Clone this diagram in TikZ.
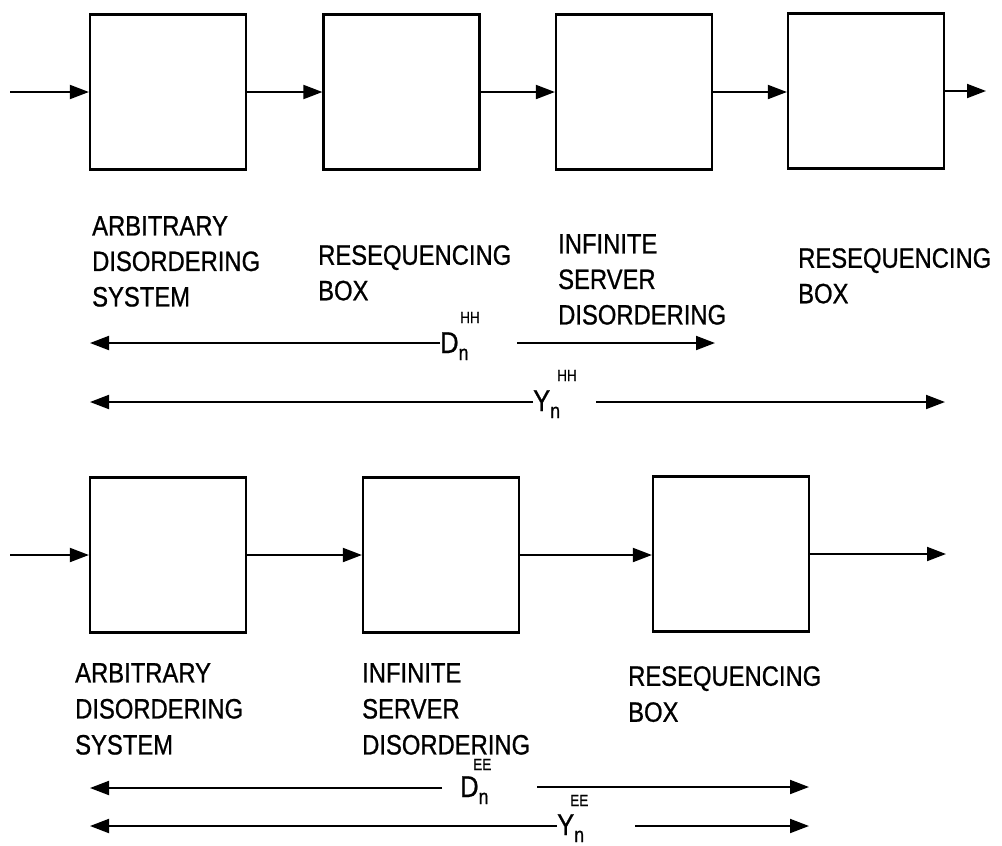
\documentclass[tikz,border=0pt]{standalone}
\usepackage{fontspec}
\setmainfont{Liberation Sans}[FakeStretch=0.85,FakeBold=0.8]
\usetikzlibrary{arrows.meta}
\begin{document}
\begin{tikzpicture}[x=1pt,y=-1pt,
  blk/.style={draw, line width=2.2pt, minimum width=156pt, minimum height=155pt, inner sep=0pt},
  arr/.style={line width=1.9pt, -{Triangle[length=19pt,width=14pt]}},
  lbl/.style={anchor=north west, inner sep=0pt, align=left, font=\fontsize{28}{35.5}\selectfont},
  lblb/.style={anchor=north west, inner sep=0pt, align=left, font=\fontsize{28}{36}\selectfont},
  var/.style={anchor=base west, inner sep=0pt, font=\fontsize{30}{30}\selectfont},
  supr/.style={anchor=base west, inner sep=0pt, font=\fontsize{16}{16}\selectfont}]
\useasboundingbox (0,0) rectangle (1002,846);

% top row
\node[blk] (b1) at (168,92) {};
\node[blk] (b2) at (401.5,92) {};
\node[blk] (b3) at (634,92) {};
\node[blk] (b4) at (866,91) {};
\coordinate (inT) at (10,92);
\coordinate (outT) at (986,91);
\draw[arr] (inT) -- (b1.west);
\draw[arr] (b1.east) -- (b2.west);
\draw[arr] (b2.east) -- (b3.west);
\draw[arr] (b3.east) -- (b4.west |- b3.east);
\draw[arr] (b4.east) -- (outT);

\node[lbl] (t1) at (92,216) {ARBITRARY\\DISORDERING\\SYSTEM};
\node[lbl] (t2) at (318,245) {RESEQUENCING\\BOX};
\node[lbl] (t3) at (558,234) {INFINITE\\SERVER\\DISORDERING};
\node[lbl] (t4) at (798,248) {RESEQUENCING\\BOX};

% D_n^HH
\node[var] (dhh) at (440,353) {D\raisebox{-7pt}{\fontsize{21}{21}\selectfont n}};
\node[supr] (dhhs) at (460,323) {HH};
\coordinate (dhhL) at (90,343);
\coordinate (dhhR1) at (517,343);
\coordinate (dhhR2) at (715,343);
\draw[arr] ([yshift=10pt]dhh.base west) -- (dhhL);
\draw[arr] (dhhR1) -- (dhhR2);

% Y_n^HH
\node[var] (yhh) at (533,411) {Y\raisebox{-7pt}{\fontsize{21}{21}\selectfont n}};
\node[supr] (yhhs) at (557,381) {HH};
\coordinate (yhhL) at (90,402);
\coordinate (yhhR1) at (596,402);
\coordinate (yhhR2) at (945,402);
\draw[arr] ([yshift=9pt]yhh.base west) -- (yhhL);
\draw[arr] (yhhR1) -- (yhhR2);

% bottom row
\node[blk] (c1) at (168,555) {};
\node[blk] (c2) at (441,555) {};
\node[blk] (c3) at (731,554) {};
\coordinate (inB) at (10,555);
\coordinate (outB) at (946,554);
\draw[arr] (inB) -- (c1.west);
\draw[arr] (c1.east) -- (c2.west);
\draw[arr] (c2.east) -- (c3.west |- c2.east);
\draw[arr] (c3.east) -- (outB);

\node[lblb] (s1) at (75,663) {ARBITRARY\\DISORDERING\\SYSTEM};
\node[lblb] (s2) at (362,663) {INFINITE\\SERVER\\DISORDERING};
\node[lblb] (s3) at (628,666) {RESEQUENCING\\BOX};

% D_n^EE
\node[var] (dee) at (460,797) {D\raisebox{-7pt}{\fontsize{21}{21}\selectfont n}};
\node[supr] (dees) at (473,770) {EE};
\coordinate (deeL) at (90,788);
\coordinate (deeR1) at (537,787);
\coordinate (deeR2) at (809,787);
\draw[arr] ([xshift=-18pt,yshift=9pt]dee.base west) -- (deeL);
\draw[arr] (deeR1) -- (deeR2);

% Y_n^EE
\node[var] (yee) at (557,835) {Y\raisebox{-7pt}{\fontsize{21}{21}\selectfont n}};
\node[supr] (yees) at (570,806) {EE};
\coordinate (yeeL) at (90,826);
\coordinate (yeeR1) at (635,826);
\coordinate (yeeR2) at (809,826);
\draw[arr] ([yshift=9pt]yee.base west) -- (yeeL);
\draw[arr] (yeeR1) -- (yeeR2);
\end{tikzpicture}
\end{document}
